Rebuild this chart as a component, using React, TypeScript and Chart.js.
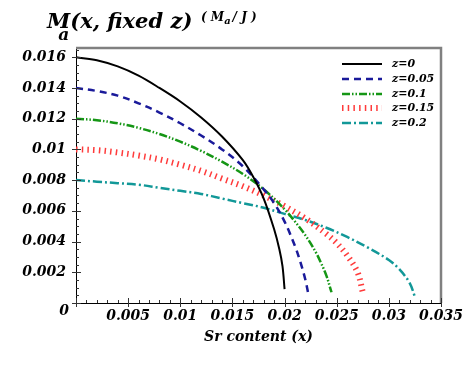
import React, { useEffect, useRef } from "react";
import { Chart, registerables } from "chart.js";

Chart.register(...registerables);

// ---- data ----
const seriesLabels = ["z=0", "z=0.05", "z=0.1", "z=0.15", "z=0.2"];

const z0X = [0, 0.002, 0.004, 0.006, 0.008, 0.01, 0.012, 0.014, 0.016, 0.017, 0.018, 0.019, 0.0195, 0.0198, 0.02];
const z0Y = [0.016, 0.0158, 0.0154, 0.0148, 0.0140, 0.01312, 0.01208, 0.01084, 0.0093, 0.0082, 0.0068, 0.0048, 0.0035, 0.0024, 0.0009];

const z005X = [0, 0.002, 0.004, 0.006, 0.008, 0.01, 0.012, 0.014, 0.016, 0.018, 0.019, 0.02, 0.021, 0.0215, 0.022, 0.0223];
const z005Y = [0.014, 0.0138, 0.0135, 0.013, 0.0124, 0.0117, 0.0109, 0.01, 0.0089, 0.0074, 0.0065, 0.0053, 0.0037, 0.0027, 0.0015, 0.0005];

const z01X = [0, 0.002, 0.004, 0.006, 0.008, 0.01, 0.012, 0.014, 0.016, 0.018, 0.02, 0.021, 0.022, 0.023, 0.0235, 0.024, 0.0245];
const z01Y = [0.012, 0.0119, 0.0117, 0.0114, 0.011, 0.0105, 0.0099, 0.0092, 0.0084, 0.0074, 0.0061, 0.0053, 0.0044, 0.0033, 0.0026, 0.0018, 0.0007];

const z015X = [0, 0.002, 0.004, 0.006, 0.008, 0.01, 0.012, 0.014, 0.016, 0.018, 0.02, 0.022, 0.024, 0.025, 0.026, 0.027, 0.0275];
const z015Y = [0.01, 0.00995, 0.0098, 0.0096, 0.00935, 0.009, 0.0086, 0.0081, 0.0076, 0.007, 0.0063, 0.0055, 0.0045, 0.0039, 0.0031, 0.002, 0.0007];

const z02X = [0, 0.002, 0.004, 0.006, 0.008, 0.01, 0.012, 0.014, 0.016, 0.018, 0.02, 0.022, 0.024, 0.026, 0.028, 0.03, 0.031, 0.032, 0.0325];
const z02Y = [0.008, 0.0079, 0.0078, 0.0077, 0.0075, 0.0073, 0.0071, 0.0068, 0.0065, 0.0062, 0.0058, 0.0054, 0.0049, 0.0043, 0.0036, 0.0028, 0.0022, 0.0013, 0.0004];

const xMin = 0;
const xMax = 0.035;
const xStep = 0.005;
const yMin = 0;
const yMax = 0.0166;
const yStep = 0.002;

const titleMain = "M";
const titleSub = "a";
const titleRest = "(x, fixed z)";
const unitOpen = "( M";
const unitSub = "a";
const unitRest = "/ J )";
const xAxisTitle = "Sr content (x)";
const originLabel = "0";

const FONT = "'DejaVu Serif', serif";

const toPts = (xs: number[], ys: number[]) => xs.map((x, i) => ({ x, y: ys[i] }));
const fmt = (v: number) => (Math.abs(v) < 1e-12 ? "" : String(Number(v.toFixed(4))));

const styles = [
  { color: "#000000", width: 2, dash: [] as number[] },
  { color: "#1a1a9a", width: 2.5, dash: [7, 5] },
  { color: "#159615", width: 2.5, dash: [8, 2, 1.5, 2, 1.5, 2] },
  { color: "#ff3b3b", width: 6, dash: [1.5, 4.2] },
  { color: "#129898", width: 2.5, dash: [9, 3, 2, 3] },
];

const decorPlugin = {
  id: "decor",
  afterDraw(chart: any) {
    const ctx = chart.ctx;
    const { left, right, top, bottom } = chart.chartArea;
    const xs = chart.scales.x;
    const ys = chart.scales.y;
    ctx.save();
    // top & right frame
    ctx.strokeStyle = "#808080";
    ctx.lineWidth = 2.5;
    ctx.beginPath();
    ctx.moveTo(left, top);
    ctx.lineTo(right, top);
    ctx.lineTo(right, bottom);
    ctx.stroke();
    // minor/major ticks
    ctx.strokeStyle = "#333";
    ctx.lineWidth = 1;
    ctx.beginPath();
    for (let i = 0; i * 0.0005 <= yMax + 1e-9; i++) {
      const v = i * 0.0005;
      const py = Math.round(ys.getPixelForValue(v)) + 0.5;
      const major = i % 4 === 0;
      ctx.moveTo(left - (major ? 4 : 0), py);
      ctx.lineTo(left + (major ? 5 : 3), py);
    }
    for (let i = 0; i * 0.001 <= xMax + 1e-9; i++) {
      const v = i * 0.001;
      const px = Math.round(xs.getPixelForValue(v)) + 0.5;
      const major = i % 5 === 0;
      ctx.moveTo(px, bottom + (major ? 4 : 0));
      ctx.lineTo(px, bottom - (major ? 5 : 3));
    }
    ctx.stroke();

    // origin label
    ctx.fillStyle = "#000";
    ctx.font = `italic bold 14px ${FONT}`;
    ctx.textAlign = "center";
    ctx.textBaseline = "middle";
    ctx.fillText(originLabel, 64, 311);

    // title
    ctx.textAlign = "left";
    ctx.textBaseline = "alphabetic";
    ctx.font = `italic bold 21px ${FONT}`;
    const mx = 47;
    const by = 28;
    ctx.fillText(titleMain, mx, by);
    const mw = ctx.measureText(titleMain).width;
    ctx.fillText(titleRest, mx + mw, by);
    ctx.font = `italic bold 17px ${FONT}`;
    ctx.fillText(titleSub, mx + mw - 12, by + 12);

    // unit
    ctx.font = `italic bold 12px ${FONT}`;
    let ux = 201;
    const uy = 21;
    ctx.fillText(unitOpen, ux, uy);
    ux += ctx.measureText(unitOpen).width;
    ctx.font = `italic bold 10px ${FONT}`;
    ctx.fillText(unitSub, ux, uy + 3);
    ux += ctx.measureText(unitSub).width + 2;
    ctx.font = `italic bold 12px ${FONT}`;
    ctx.fillText(unitRest, ux, uy);

    // legend
    const rows = [64, 79, 94, 108, 123];
    chart.data.datasets.forEach((ds: any, i: number) => {
      const y = rows[i];
      ctx.strokeStyle = ds.borderColor;
      ctx.lineWidth = ds.borderWidth;
      ctx.setLineDash(ds.borderDash || []);
      ctx.beginPath();
      ctx.moveTo(342, y);
      ctx.lineTo(382, y);
      ctx.stroke();
      ctx.setLineDash([]);
      ctx.fillStyle = "#000";
      ctx.font = `italic bold 11px ${FONT}`;
      ctx.textBaseline = "middle";
      ctx.fillText(ds.label, 392, y);
    });
    ctx.restore();
  },
};

export default function App() {
  const ref = useRef<HTMLCanvasElement | null>(null);
  useEffect(() => {
    if (!ref.current) return;
    const allX = [z0X, z005X, z01X, z015X, z02X];
    const allY = [z0Y, z005Y, z01Y, z015Y, z02Y];
    const chart = new Chart(ref.current, {
      type: "scatter",
      data: {
        datasets: seriesLabels.map((label, i) => ({
          label,
          data: toPts(allX[i], allY[i]),
          showLine: true,
          borderColor: styles[i].color,
          backgroundColor: styles[i].color,
          borderWidth: styles[i].width,
          borderDash: styles[i].dash,
          pointRadius: 0,
          tension: 0.35,
          fill: false,
        })),
      },
      options: {
        animation: false,
        responsive: false,
        layout: { padding: { left: 0, top: 48, right: 32, bottom: 0 } },
        plugins: { legend: { display: false }, tooltip: { enabled: false }, title: { display: false } },
        scales: {
          x: {
            type: "linear",
            min: xMin,
            max: xMax,
            grid: { display: false, drawTicks: false },
            border: { display: true, color: "#000", width: 1 },
            ticks: {
              stepSize: xStep,
              includeBounds: false,
              autoSkip: false,
              maxRotation: 0,
              padding: 5,
              color: "#000",
              font: { family: FONT, size: 14, style: "italic", weight: "bold" },
              callback: (v: any) => fmt(Number(v)),
            },
            title: {
              display: true,
              text: xAxisTitle,
              color: "#000",
              padding: { top: 0, bottom: 20 },
              font: { family: FONT, size: 14, style: "italic", weight: "bold" },
            },
            afterFit: (s: any) => {
              s.height = 63;
            },
          },
          y: {
            type: "linear",
            min: yMin,
            max: yMax,
            grid: { display: false, drawTicks: false },
            border: { display: true, color: "#000", width: 1 },
            ticks: {
              stepSize: yStep,
              includeBounds: false,
              autoSkip: false,
              padding: 10,
              color: "#000",
              font: { family: FONT, size: 14, style: "italic", weight: "bold" },
              callback: (v: any) => fmt(Number(v)),
            },
            afterFit: (s: any) => {
              s.width = 76;
            },
          },
        },
      },
      plugins: [decorPlugin],
    } as any);
    return () => chart.destroy();
  }, []);
  return (
    <div style={{ position: "fixed", left: 0, top: 0, width: 473, height: 366, background: "#fff" }}>
      <canvas ref={ref} width={473} height={366} style={{ display: "block" }} />
    </div>
  );
}
